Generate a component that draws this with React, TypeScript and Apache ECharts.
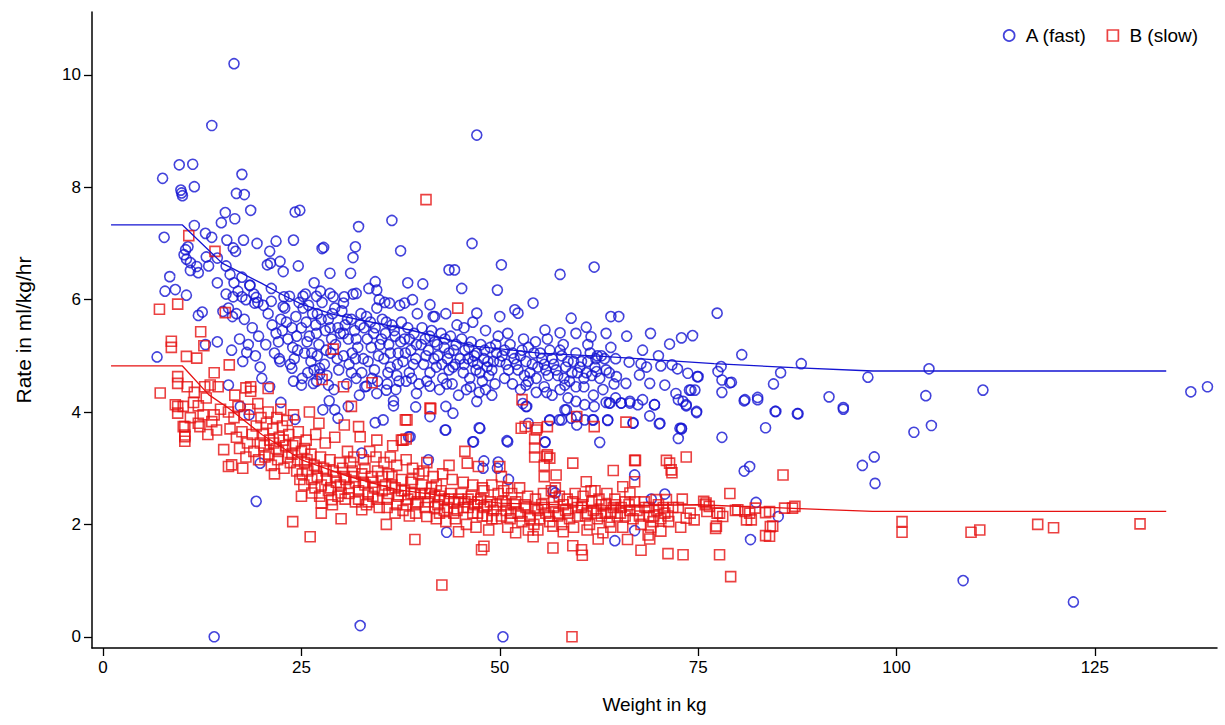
import React, { useEffect, useRef } from "react";
import * as echarts from "echarts";

const xTicks = [0, 25, 50, 75, 100, 125];
const yTicks = [0, 2, 4, 6, 8, 10];
const seriesNames = ["A (fast)", "B (slow)"];

// A (fast): [weight kg, rate ml/kg/hr]
const fastPoints: number[][] = [
  [7.5,8.16],[9.6,8.40],[11.3,8.41],[11.5,8.01],[9.8,7.95],[9.9,7.90],[10.0,7.85],[16.8,7.89],[17.8,7.87],[17.5,8.23],
  [15.4,7.55],[18.6,7.59],[16.6,7.44],[14.9,7.37],[11.5,7.32],[24.2,7.56],[24.8,7.59],[32.2,7.30],[36.4,7.41],[7.7,7.11],
  [12.9,7.18],[13.7,7.11],[15.6,7.06],[17.7,7.06],[19.4,7.00],[21.8,7.04],[24.0,7.06],[27.6,6.91],[27.8,6.93],[31.8,6.94],
  [31.5,6.75],[37.5,6.87],[10.4,6.89],[10.7,6.94],[10.2,6.80],[10.5,6.72],[11.0,6.66],[11.8,6.59],[11.0,6.52],[12.0,6.48],
  [13.3,6.60],[13.0,6.76],[14.4,6.74],[16.7,6.86],[16.4,6.92],[21.0,6.86],[21.1,6.65],[20.7,6.62],[22.3,6.68],[22.7,6.50],
  [24.6,6.60],[28.6,6.47],[31.2,6.47],[34.3,6.32],[40.3,6.28],[8.4,6.41],[7.8,6.15],[9.1,6.18],[10.5,6.08],[6.8,4.98],
  [14.4,6.30],[15.5,6.10],[16.4,6.05],[17.5,6.05],[18.5,6.26],[19.3,6.04],[15.1,5.79],[16.3,5.70],[12.0,5.72],[12.5,5.78],
  [12.9,5.20],[14.4,5.25],[46.5,7.00],[47.1,8.93],[16.5,10.2],[13.7,9.10],[50.2,6.62],[57.6,6.45],[61.9,6.58],[43.6,6.53],
  [44.3,6.53],[45.2,6.20],[49.7,6.17],[54.2,5.94],[38.4,6.30],
  [19.1,5.94],[21.2,5.97],[22.7,5.88],[23.5,6.06],[25.2,6.06],[26.9,6.06],[28.6,6.11],[30.3,5.94],[31.9,6.11],[34.5,6.17],
  [36.1,5.94],[38.0,5.94],[41.2,5.91],
  [15.5,6.60],[16.0,6.45],[16.5,6.30],[17.0,6.15],[17.5,6.40],[18.0,6.00],[18.5,6.25],[19.0,6.10],[19.5,5.95],[15.8,5.85],
  [16.8,5.75],[17.8,5.65],[18.8,5.50],[19.6,5.35],[17.2,5.30],[18.3,5.20],[19.2,5.00],[16.2,5.10],[18.1,5.06],[19.8,4.80],
  [17.6,4.90],
  [20.2,5.90],[20.8,5.75],[21.3,5.55],[21.8,5.40],[22.4,5.65],[22.9,5.85],[23.3,5.30],[23.8,5.50],[24.3,5.70],[24.7,5.95],
  [20.5,5.20],[21.6,5.05],[22.2,4.95],[23.6,4.85],[24.5,5.10],[20.0,4.60],[21.0,4.45],[24.0,4.55],[22.8,6.05],[21.2,6.20],
  [25.2,5.85],[25.6,5.60],[26.0,5.35],[26.4,5.75],[26.8,5.55],[27.2,5.20],[27.6,5.95],[28.0,5.45],[28.4,5.65],[28.8,5.30],
  [29.2,5.85],[29.6,5.50],[25.4,5.05],[26.2,4.90],[27.0,5.00],[27.9,4.85],[28.7,5.05],[29.5,4.95],[25.8,4.70],[26.9,4.55],
  [28.2,4.65],[29.1,4.40],[25.5,6.10],[27.4,6.15],[29.0,6.05],[26.6,6.30],[28.5,4.20],
  [30.1,5.80],[30.5,5.55],[30.9,5.30],[31.3,5.65],[31.7,5.45],[32.1,5.15],[32.5,5.75],[32.9,5.50],[33.3,5.30],[33.7,5.60],
  [34.1,5.40],[34.5,5.85],[34.9,5.20],[30.3,5.00],[31.0,4.85],[31.8,4.95],[32.6,4.70],[33.4,4.90],[34.2,4.75],[30.7,4.50],
  [31.9,4.60],[33.0,4.45],[34.6,4.55],[30.4,6.05],[31.5,6.10],[33.5,6.20],[32.3,4.30],[34.8,6.00],
  [35.2,5.65],[35.6,5.40],[36.0,5.20],[36.4,5.55],[36.8,5.35],[37.2,5.05],[37.6,5.60],[38.0,5.30],[38.4,5.50],[38.8,5.10],
  [39.2,5.40],[39.6,5.75],[35.4,4.95],[36.2,4.80],[37.0,4.65],[37.8,4.90],[38.6,4.70],[39.4,4.95],[35.8,4.50],[36.9,4.40],
  [38.2,4.55],[39.8,4.50],[35.5,5.95],[37.4,5.90],[39.0,6.00],[36.6,4.20],
  [40.2,5.50],[40.6,5.30],[41.0,5.10],[41.4,5.45],[41.8,5.25],[42.2,5.00],[42.6,5.40],[43.0,5.15],[43.4,4.95],[43.8,5.35],
  [44.2,5.10],[44.6,5.55],[40.4,4.85],[41.2,4.70],[42.0,4.80],[42.8,4.60],[43.6,4.75],[44.4,4.85],[40.8,4.55],[42.4,4.40],
  [44.0,4.50],[41.6,5.70],[43.2,5.75],[44.8,4.30],
  [45.2,5.30],[45.6,5.10],[46.0,4.95],[46.4,5.25],[46.8,5.00],[47.2,4.85],[47.6,5.20],[48.0,4.95],[48.4,4.80],[48.8,5.15],
  [49.2,4.90],[49.6,5.05],[45.4,4.70],[46.2,4.60],[47.0,4.75],[47.8,4.55],[48.6,4.65],[49.4,4.50],[45.8,4.40],[47.4,4.35],
  [49.0,4.30],[45.5,5.50],[46.6,5.60],[48.2,5.45],[49.8,5.35],[47.1,5.76],[50.0,5.70],[51.9,5.82],[52.3,5.76],[41.8,5.70],
  [50.3,5.00],[50.8,4.85],[51.3,5.20],[51.8,4.95],[52.3,4.75],[52.8,5.10],[53.3,4.90],[53.8,4.70],[54.3,5.05],[54.8,4.80],
  [50.6,4.60],[51.6,4.50],[52.6,4.40],[53.6,4.55],[54.6,4.35],[51.0,5.40],[53.0,5.30],[54.5,5.25],[53.3,4.48],[53.3,4.10],
  [55.3,4.95],[55.8,4.75],[56.3,5.10],[56.8,4.85],[57.3,4.65],[57.8,5.00],[58.3,4.80],[58.8,4.55],[59.3,4.90],[59.8,4.70],
  [55.6,4.45],[56.6,4.30],[57.6,4.40],[58.6,4.25],[59.6,4.45],[56.0,5.30],[58.0,5.20],[59.0,5.67],[55.7,5.46],[57.6,5.41],
  [55.9,4.35],[58.2,4.48],[59.6,4.19],[56.3,3.86],[57.5,3.86],[59.7,3.92],[58.2,4.04],
  [60.3,4.90],[60.9,4.70],[61.4,5.05],[62.0,4.80],[62.6,4.60],[63.2,4.95],[63.8,4.70],[64.4,4.50],[60.6,4.45],[61.8,4.30],
  [63.0,4.40],[64.6,4.25],[61.1,5.20],[64.0,5.15],[59.6,5.40],[60.9,5.51],[61.5,5.34],[63.4,5.40],[64.0,5.70],[60.7,4.13],
  [61.9,4.10],[63.4,4.17],[61.7,3.86],[63.6,3.86],
  [65.0,5.70],[71.4,5.21],[72.9,5.32],[74.3,5.36],[66.3,4.89],[67.8,4.86],[68.5,4.80],[70.3,4.82],[71.7,4.84],[72.4,4.77],
  [73.7,4.69],[74.9,4.63],[65.9,4.51],[67.6,4.66],[68.9,4.51],[70.8,4.48],[72.2,4.33],[73.9,4.39],[73.1,4.19],[74.8,4.01],
  [69.5,4.13],[68.0,4.22],[66.4,4.19],[65.3,4.16],[63.8,4.16],[66.8,3.80],[70.2,3.80],[72.7,3.71],[64.6,4.95],[62.3,5.00],
  [62.8,5.00],[63.4,4.75],[64.7,4.63],[62.2,4.72],[66.0,5.35],[68.0,5.10],[70.0,5.00],[69.0,5.40],[62.6,3.46],[72.5,3.53],
  [77.4,5.76],[80.5,5.02],[77.9,4.81],[77.5,4.72],[78.0,4.57],[79.2,4.53],[78.0,4.35],[85.4,4.70],[88.0,4.86],[84.5,4.50],
  [82.5,4.26],[80.8,4.20],[84.7,4.01],[87.5,3.97],[83.5,3.72],[78.0,3.55],[91.5,4.27],[93.3,4.08],[93.3,4.05],[96.4,4.62],
  [104.1,4.77],[103.7,4.29],[110.9,4.39],[102.2,3.64],[104.4,3.76],[137.1,4.36],[139.2,4.45],[75.0,4.63],[74.1,4.39],
  [74.6,4.39],[73.5,4.13],[79.0,4.52],[72.9,3.70],
  [14.0,0.00],[32.4,0.20],[50.4,0.00],[19.3,2.41],[19.8,3.09],[43.3,1.86],[51.1,2.80],[47.9,3.00],[49.7,3.00],[56.7,2.59],
  [57.0,2.56],[67.0,2.88],[70.8,2.54],[69.1,2.45],[80.8,2.95],[81.5,3.03],[82.3,2.39],[85.1,2.14],[81.6,1.73],[64.5,1.71],
  [67.0,1.89],[108.4,1.00],[122.3,0.62],[95.7,3.05],[97.2,3.20],[97.3,2.73],[41.0,3.15],[48.0,3.13],[49.8,3.11],[32.6,3.27],
  [38.5,3.56],[34.3,3.81],[35.3,3.86],[43.1,3.68],[47.5,3.71],[46.6,3.47],[51.0,3.47],[30.9,4.10],[36.6,4.11],[39.4,4.09],
  [41.2,3.92],[43.2,4.10],[44.1,3.98],[47.1,4.19],[52.9,4.15],[53.4,4.10],[53.6,3.80],[55.7,3.46],[56.3,3.85],[57.8,3.86],
  [58.4,4.04],[59.0,3.89],[59.7,3.77],[60.7,3.86],[61.8,3.86],[63.6,3.85],[66.8,3.81],[68.9,3.93],[70.1,3.79],[72.9,3.71],
  [63.9,4.16],[65.3,4.16],[66.4,4.16],[67.4,4.13],[69.5,4.13],[72.5,4.22],[73.5,4.11],[74.8,3.99],[80.9,4.22],[82.5,4.22],
  [84.8,4.01],[87.6,3.97],[38.7,3.56],[43.2,3.68],[47.4,3.72],[46.7,3.47],[50.9,3.49],[55.7,3.47],
  [15.8,4.48],[17.3,4.10],[18.4,3.95],[22.4,4.17],[24.2,3.87],[25.0,4.48],[26.5,4.51],[28.4,4.48],[27.7,4.04],[29.2,4.04],
  [29.6,3.89],[22.3,4.90],[23.8,4.78],[25.1,4.60],[27.3,4.78],[27.3,4.67],[33.2,4.46],[34.5,4.33],[35.7,4.39],[39.5,4.33],
  [41.2,4.46],
  [22.1,5.25],[22.6,5.45],[23.1,5.60],[23.9,5.15],[24.4,5.35],[25.0,5.50],[25.7,5.25],[26.3,5.05],[26.9,5.40],[27.5,5.65],
  [28.1,5.10],[28.6,5.50],[29.3,5.20],[29.9,5.40],[25.9,5.90],[27.0,5.75],[28.9,5.75],[24.1,4.95],[26.6,4.75],[29.7,4.75],
  [30.3,5.40],[30.8,5.65],[31.4,5.05],[31.9,5.30],[32.4,5.55],[32.8,4.95],[33.2,5.70],[33.8,5.15],[34.3,5.50],[34.7,5.00],
  [35.1,5.30],[35.7,5.60],[36.2,5.05],[36.7,5.45],[37.1,4.85],[37.5,5.25],[38.1,5.05],[38.6,5.30],[39.1,4.85],[39.5,5.20],
  [35.9,4.70],[37.3,4.55],[38.9,4.60],[33.9,4.60],[31.3,4.70],
  [40.1,5.20],[40.7,5.00],[41.2,5.35],[41.7,4.95],[42.1,5.20],[42.7,4.85],[43.1,5.30],[43.6,5.05],[44.1,4.80],[44.5,5.20],
  [45.0,4.95],[45.5,4.85],[46.1,5.15],[46.6,4.90],[47.1,5.05],[47.5,4.70],[48.1,5.10],[48.5,4.90],[49.0,4.75],[49.5,5.20],
  [50.0,4.90],[46.3,4.45],[48.2,4.40],[43.3,4.50],
  [50.6,5.10],[51.1,4.75],[51.6,5.05],[52.1,4.85],[52.6,5.00],[53.1,4.65],[53.6,5.15],[54.1,4.85],[54.6,4.60],[55.1,5.05],
  [55.6,4.85],[56.1,4.65],[56.6,4.95],[57.1,4.75],[57.6,5.10],[58.1,4.60],[58.6,4.90],[59.1,4.70],[59.6,5.05],[60.1,4.80],
  [60.6,4.60],[61.1,4.90],[61.6,4.65],[62.1,4.95]
];

// B (slow): [weight kg, rate ml/kg/hr]
const slowPoints: number[][] = [
  [40.7,7.78],[10.8,7.14],[14.1,6.86],[7.1,5.83],[9.4,5.92],[15.4,5.77],[12.3,5.43],[12.7,5.18],[8.6,5.26],[8.6,5.15],
  [29.0,5.12],[10.5,4.99],[11.8,4.96],[15.9,4.84],[7.2,4.34],[9.4,4.63],[9.4,4.51],[14.0,4.70],[18.0,4.43],[20.8,4.42],
  [18.6,4.37],[27.6,4.58],[30.3,4.45],[33.9,4.52],[41.3,4.06],[38.2,3.52],[37.8,3.50],[44.7,5.85],[38.1,3.86],
  [52.8,4.22],[59.7,3.92],[65.9,3.82],[53.2,3.74],[54.7,3.72],[56.0,3.74],[54.4,3.52],[54.4,3.36],[56.0,3.24],[56.3,3.18],
  [67.1,3.14],[71.0,3.14],[71.4,3.09],[73.5,3.20],
  [9.4,4.10],[9.4,3.98],[10.3,3.74],[10.3,3.56],[10.3,3.48],
  [9.1,4.13],[10.1,4.10],[11.4,4.17],[12.0,4.11],[10.1,3.74],[10.3,3.59],[12.0,3.80],[12.2,3.74],[13.7,3.83],[14.3,3.68],
  [12.8,4.45],[13.5,4.48],[14.5,4.45],[11.5,4.35],[13.0,4.25],[14.8,4.05],[11.0,3.90],[12.6,3.95],[14.0,3.95],[10.6,4.45],
  [13.2,3.60],
  [15.2,3.33],[15.8,3.03],[16.2,3.06],[15.8,4.00],[16.5,3.90],[17.0,4.10],[17.8,3.95],[18.5,4.05],[19.5,4.15],[16.0,3.70],
  [16.8,3.55],[17.5,3.65],[18.2,3.45],[18.8,3.60],[19.3,3.75],[17.2,3.35],[18.0,3.20],[19.0,3.30],[19.8,3.45],[16.6,4.30],
  [18.6,4.45],[19.9,3.90],[17.6,3.00],[19.6,3.15],
  [20.2,3.60],[20.6,3.80],[21.0,3.50],[21.4,3.70],[21.8,3.35],[22.2,3.55],[22.6,3.75],[23.0,3.40],[23.4,3.60],[23.8,3.25],
  [24.2,3.45],[24.6,3.65],[20.4,3.20],[21.2,3.05],[22.0,3.15],[22.8,3.00],[23.6,3.10],[24.4,2.95],[20.8,4.00],[22.4,4.05],
  [24.0,3.95],[23.9,2.05],[21.6,2.90],[24.8,2.80],
  [25.0,3.30],[25.4,3.10],[25.8,2.95],[26.2,3.25],[26.6,3.05],[27.0,2.85],[27.4,3.20],[27.8,3.00],[28.2,2.80],[28.6,3.15],
  [29.0,2.95],[29.4,2.75],[29.8,3.10],[25.0,2.50],[26.3,2.56],[27.5,2.38],[27.5,2.20],[28.8,2.44],[30.0,2.56],[26.1,1.78],
  [25.6,3.50],[26.8,3.60],[28.0,3.45],[29.2,3.55],[25.3,2.70],[26.7,2.65],[28.4,2.60],[29.6,2.50],[27.2,3.80],[26.0,4.00],
  [30.2,3.00],[30.6,2.80],[31.0,2.65],[31.4,2.95],[31.8,2.75],[32.2,2.60],[32.6,2.90],[33.0,2.70],[33.4,2.55],[33.8,2.85],
  [34.2,2.65],[34.6,2.95],[30.4,3.77],[32.2,3.74],[31.3,4.10],[32.4,3.56],[34.5,3.50],[32.6,2.26],[30.8,3.30],[31.6,3.20],
  [32.8,3.15],[33.6,3.30],[34.4,3.20],[30.5,2.45],[31.8,2.40],[33.2,2.35],[34.8,2.30],[34.0,2.50],[30.0,2.10],
  [35.2,2.85],[35.6,2.70],[36.0,2.55],[36.4,2.85],[36.8,2.65],[37.2,2.50],[37.6,2.80],[38.0,2.60],[38.4,2.45],[38.8,2.75],
  [39.2,2.55],[39.6,2.40],[35.7,2.00],[38.3,3.86],[37.6,3.50],[39.3,1.73],[35.4,3.10],[36.2,3.20],[37.0,3.05],[38.2,3.15],
  [39.0,3.00],[39.8,2.90],[35.8,2.30],[36.8,2.20],[37.8,2.25],[38.6,2.15],[39.4,2.20],[36.5,3.40],
  [40.2,2.70],[40.6,2.55],[41.0,2.40],[41.4,2.65],[41.8,2.50],[42.2,2.35],[42.6,2.60],[43.0,2.45],[43.4,2.30],[43.8,2.55],
  [44.2,2.40],[44.6,2.25],[41.2,4.07],[40.8,2.14],[44.8,1.87],[42.7,0.92],[40.4,2.95],[41.6,2.85],[42.8,2.90],[44.0,2.80],
  [43.6,3.05],[40.8,3.10],[42.0,2.10],[43.2,2.05],[44.4,2.10],[42.4,2.20],
  [45.2,2.55],[45.6,2.40],[46.0,2.30],[46.4,2.50],[46.8,2.35],[47.2,2.20],[47.6,2.45],[48.0,2.30],[48.4,2.15],[48.8,2.40],
  [49.2,2.25],[49.6,2.10],[45.6,3.30],[45.9,3.09],[47.3,3.03],[50.0,3.03],[47.7,1.55],[48.0,1.61],[45.4,2.75],[46.6,2.70],
  [47.8,2.65],[49.0,2.70],[45.8,2.00],[47.0,1.95],[48.6,1.90],[49.8,2.55],
  [50.3,2.40],[50.8,2.25],[51.3,2.10],[51.8,2.35],[52.3,2.20],[52.8,2.05],[53.3,2.30],[53.8,2.15],[54.3,2.00],[54.8,2.25],
  [52.7,3.71],[54.6,3.68],[54.4,3.20],[54.2,1.78],[54.8,1.90],[50.5,2.60],[51.5,2.55],[52.5,2.65],[53.5,2.50],[54.5,2.45],
  [51.0,1.95],[52.0,1.85],[53.6,1.90],[50.2,2.85],
  [55.3,2.35],[55.8,2.20],[56.3,2.05],[56.8,2.30],[57.3,2.15],[57.8,2.00],[58.3,2.25],[58.8,2.10],[59.3,1.95],[59.8,2.30],
  [55.6,3.05],[55.9,3.21],[59.2,3.09],[60.9,2.76],[55.6,2.85],[57.1,2.88],[56.7,1.58],[59.2,1.62],[60.3,1.55],[59.1,0.00],
  [56.7,1.97],[58.0,1.87],[55.5,2.55],[56.5,2.60],[57.5,2.50],[58.5,2.45],[59.5,2.55],
  [60.3,2.30],[60.8,2.15],[61.3,2.00],[61.8,2.25],[62.3,2.10],[62.8,2.35],[63.3,2.20],[63.8,2.05],[64.3,2.30],[64.8,2.15],
  [61.9,3.74],[64.3,2.96],[62.4,1.74],[60.4,1.45],[60.5,2.50],[61.5,2.60],[62.5,2.45],[63.5,2.55],[64.5,2.45],[61.0,1.90],
  [63.0,1.85],[64.0,1.95],
  [65.5,2.67],[67.0,2.76],[66.4,2.56],[69.7,2.44],[71.0,2.44],[65.3,2.30],[65.8,2.15],[66.3,2.35],[66.8,2.10],[67.3,2.25],
  [67.8,2.00],[68.3,2.30],[68.8,2.15],[69.3,2.05],[69.8,2.25],[70.3,2.10],[70.8,2.20],[71.3,2.05],[71.8,2.30],[67.0,3.14],
  [71.6,2.97],[71.7,2.92],[68.7,1.81],[68.9,1.74],[67.8,1.54],[71.2,1.48],[70.3,1.88],[66.1,1.73],[65.5,1.95],[69.0,1.95],
  [73.1,1.46],[77.7,1.46],[79.1,1.07],[73.5,2.11],[74.5,2.08],[76.0,2.38],[76.4,2.32],[77.7,2.20],[78.1,2.14],[77.3,1.97],
  [79.0,2.55],[80.0,2.26],[81.5,2.20],[81.7,2.08],[84.0,2.23],[84.4,1.97],[84.0,1.79],[85.7,2.88],[85.9,2.29],[87.2,2.32],
  [75.7,2.41],[75.9,2.35],[76.1,2.23],[77.4,2.20],[79.7,2.25],[80.9,2.23],[81.1,2.08],[82.2,2.29],[83.5,2.21],[84.1,1.96],
  [83.5,1.80],[77.2,1.93],[86.9,2.29],[72.5,2.30],[73.0,2.45],[74.0,2.20],[72.8,1.95],
  [100.7,2.05],[100.7,1.86],[109.4,1.86],[110.5,1.90],[117.8,2.00],[119.8,1.94],[130.7,2.01],
  [20.3,3.40],[20.9,3.25],[21.5,3.45],[22.1,3.30],[22.7,3.50],[23.3,3.20],[23.9,3.40],[24.5,3.15],[25.1,2.90],[25.7,3.15],
  [26.3,2.80],[26.9,3.00],[27.5,2.70],[28.1,2.95],[28.7,2.65],[29.3,2.85],[29.9,2.70],[21.9,3.90],[23.2,3.85],[25.4,3.35],
  [27.3,2.50],[28.9,2.35],
  [30.4,2.85],[31.0,2.55],[31.6,2.85],[32.2,2.45],[32.8,2.75],[33.4,2.40],[34.0,2.75],[34.6,2.45],[35.2,2.60],[35.8,2.45],
  [36.4,2.70],[37.0,2.35],[37.6,2.60],[38.2,2.35],[38.8,2.55],[39.4,2.35],[40.0,2.55],[40.6,2.30],[41.2,2.55],[41.8,2.30],
  [42.4,2.50],[43.0,2.25],[43.6,2.45],[44.2,2.20],[44.8,2.45],[33.0,3.00],[36.0,2.90],[39.0,2.80],[42.0,2.70],[31.2,3.10],
  [45.4,2.30],[46.0,2.45],[46.6,2.20],[47.2,2.40],[47.8,2.15],[48.4,2.35],[49.0,2.10],[49.6,2.35],[50.2,2.15],[50.8,2.35],
  [51.4,2.20],[52.0,2.40],[52.6,2.15],[53.2,2.35],[53.8,2.10],[54.4,2.30],[55.0,2.10],[55.6,2.30],[56.2,2.15],[56.8,2.40],
  [57.4,2.20],[58.0,2.35],[58.6,2.20],[59.2,2.40],[59.8,2.15],[60.4,2.35],[61.0,2.20],[61.6,2.40],[62.2,2.20],[62.8,2.15],
  [63.4,2.35],[64.0,2.20],[64.6,2.35],[65.2,2.20],[65.8,2.40],[66.4,2.25],[67.0,2.40],[67.6,2.15],[68.2,2.40],[68.8,2.30],
  [69.4,2.15],[70.0,2.35],[70.6,2.30],[71.2,2.15],[48.0,2.60],[51.0,2.65],[57.0,2.65],[62.0,2.60]
];

// fitted curves
const fastFit: number[][] = [
  [1,7.33],[10,7.33],[15,6.65],[20,6.29],[22.3,6.11],[25,5.92],[29,5.74],[38.7,5.46],[47,5.17],[55,5.05],
  [63,4.99],[77,4.86],[87,4.79],[97,4.73],[134,4.73]
];
const slowFit: number[][] = [
  [1,4.82],[10,4.82],[13.3,4.31],[16,4.05],[20,3.60],[25,3.15],[31,2.85],[37,2.62],[50,2.38],[62,2.33],
  [75,2.35],[97,2.23],[134,2.23]
];

const BLUE = "#1414d2";
const RED = "#e61212";
const FONT = "Liberation Sans, Arial, sans-serif";

export default function App() {
  const ref = useRef<HTMLDivElement>(null);
  useEffect(() => {
    if (!ref.current) return;
    const chart = echarts.init(ref.current, undefined, { renderer: "svg" });
    chart.setOption({
      animation: false,
      backgroundColor: "#ffffff",
      textStyle: { fontFamily: FONT },
      grid: { left: 92, right: 8, top: 12, bottom: 77, containLabel: false },
      legend: {
        right: 22,
        top: 21,
        itemGap: 18,
        itemWidth: 11,
        itemHeight: 11,
        textStyle: { fontFamily: FONT, fontSize: 19, color: "#000", padding: [0, 0, 0, 6] },
        data: [
          { name: seriesNames[0], icon: "circle", itemStyle: { color: "none", borderColor: BLUE, borderWidth: 1.7 } },
          { name: seriesNames[1], icon: "rect", itemStyle: { color: "none", borderColor: RED, borderWidth: 1.7 } },
        ],
      },
      xAxis: {
        type: "value",
        min: -1.4,
        max: 140.4,
        name: "Weight in kg",
        nameLocation: "middle",
        nameGap: 47,
        nameTextStyle: { fontFamily: FONT, fontSize: 19, color: "#000" },
        splitLine: { show: false },
        axisLine: { show: true, onZero: false, lineStyle: { color: "#000", width: 1.5 } },
        axisTick: { show: true, length: 8, lineStyle: { color: "#000", width: 1.3 }, customValues: xTicks },
        axisLabel: { fontFamily: FONT, fontSize: 17, color: "#000", margin: 11, customValues: xTicks },
      },
      yAxis: {
        type: "value",
        min: -0.2,
        max: 11.12,
        name: "Rate in ml/kg/hr",
        nameLocation: "middle",
        nameGap: 58,
        nameTextStyle: { fontFamily: FONT, fontSize: 21, color: "#000" },
        splitLine: { show: false },
        axisLine: { show: true, onZero: false, lineStyle: { color: "#000", width: 1.5 } },
        axisTick: { show: true, length: 8, lineStyle: { color: "#000", width: 1.3 }, customValues: yTicks },
        axisLabel: { fontFamily: FONT, fontSize: 17, color: "#000", margin: 11, customValues: yTicks },
      },
      series: [
        {
          name: seriesNames[0],
          type: "scatter",
          data: fastPoints,
          symbol: "circle",
          symbolSize: 10,
          itemStyle: { color: "none", borderColor: BLUE, borderWidth: 1.6 },
          z: 2,
        },
        {
          name: seriesNames[1],
          type: "scatter",
          data: slowPoints,
          symbol: "rect",
          symbolSize: 10,
          itemStyle: { color: "none", borderColor: RED, borderWidth: 1.6 },
          z: 3,
        },
        {
          name: "fitA",
          type: "line",
          data: fastFit,
          showSymbol: false,
          symbol: "none",
          lineStyle: { color: BLUE, width: 1.3 },
          z: 4,
        },
        {
          name: "fitB",
          type: "line",
          data: slowFit,
          showSymbol: false,
          symbol: "none",
          lineStyle: { color: RED, width: 1.3 },
          z: 4,
        },
      ],
    });
    return () => chart.dispose();
  }, []);
  return (
    <div
      ref={ref}
      style={{ position: "fixed", left: 0, top: 0, width: 1225, height: 725, background: "#fff" }}
    />
  );
}
